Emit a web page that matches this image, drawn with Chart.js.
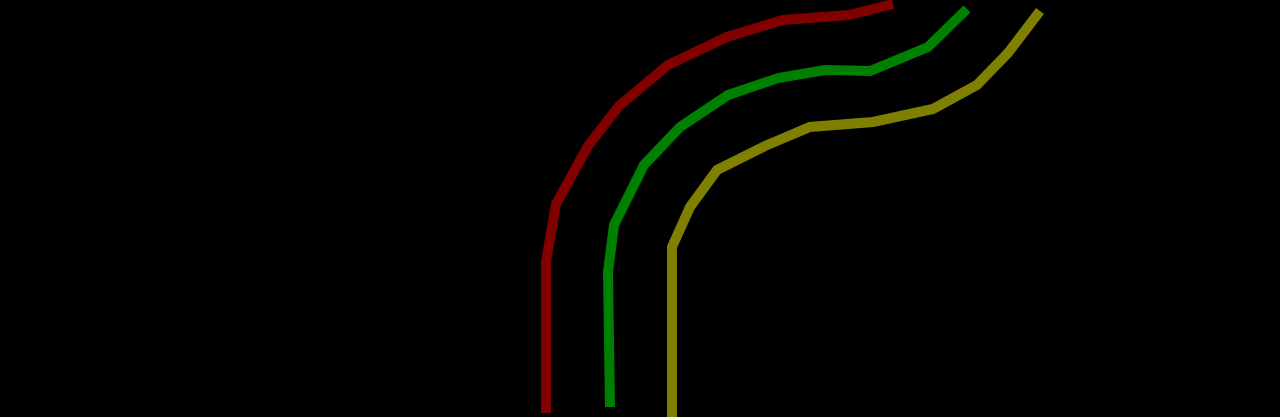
<!DOCTYPE html>
<html>
<head>
<meta charset="utf-8">
<script src="https://cdn.jsdelivr.net/npm/chart.js@4"></script>
<style>
  html, body { margin: 0; padding: 0; background: #000; overflow: hidden; }
  #wrap { width: 1280px; height: 417px; }
</style>
</head>
<body>
<div id="wrap"><canvas id="curves" width="1280" height="417"></canvas></div>
<script>
// series values (x across, y down)
const redX = [546, 546, 556, 588, 619, 668, 727, 783, 849, 893];
const redY = [413, 262, 204, 146, 106, 65, 37, 20, 15, 4];

const greenX = [610, 609, 608, 614, 644, 680, 728, 778, 825, 870, 928, 967];
const greenY = [407, 342, 272, 225, 165, 127, 95, 78, 70, 71, 47, 9];

const oliveX = [672, 672, 690, 717, 765, 810, 873, 933, 977, 1008, 1040];
const oliveY = [417, 247, 207, 170, 146, 127, 122, 109, 85, 53, 11];

function toPoints(xs, ys) {
  return xs.map((x, i) => ({ x, y: ys[i] }));
}

document.addEventListener('DOMContentLoaded', () => {
  const ctx = document.getElementById('curves').getContext('2d');
  new Chart(ctx, {
    type: 'scatter',
    data: {
      datasets: [
        { data: toPoints(redX, redY), borderColor: '#800000' },
        { data: toPoints(greenX, greenY), borderColor: '#008000' },
        { data: toPoints(oliveX, oliveY), borderColor: '#808000' }
      ].map(d => Object.assign(d, {
        showLine: true,
        borderWidth: 10,
        pointRadius: 0,
        pointHoverRadius: 0,
        tension: 0,
        fill: false,
        clip: false
      }))
    },
    options: {
      responsive: false,
      animation: false,
      layout: { padding: 0 },
      scales: {
        x: { type: 'linear', min: 0, max: 1280, display: false },
        y: { type: 'linear', min: 0, max: 417, reverse: true, display: false }
      },
      plugins: {
        legend: { display: false },
        tooltip: { enabled: false }
      }
    }
  });
});
</script>
</body>
</html>
